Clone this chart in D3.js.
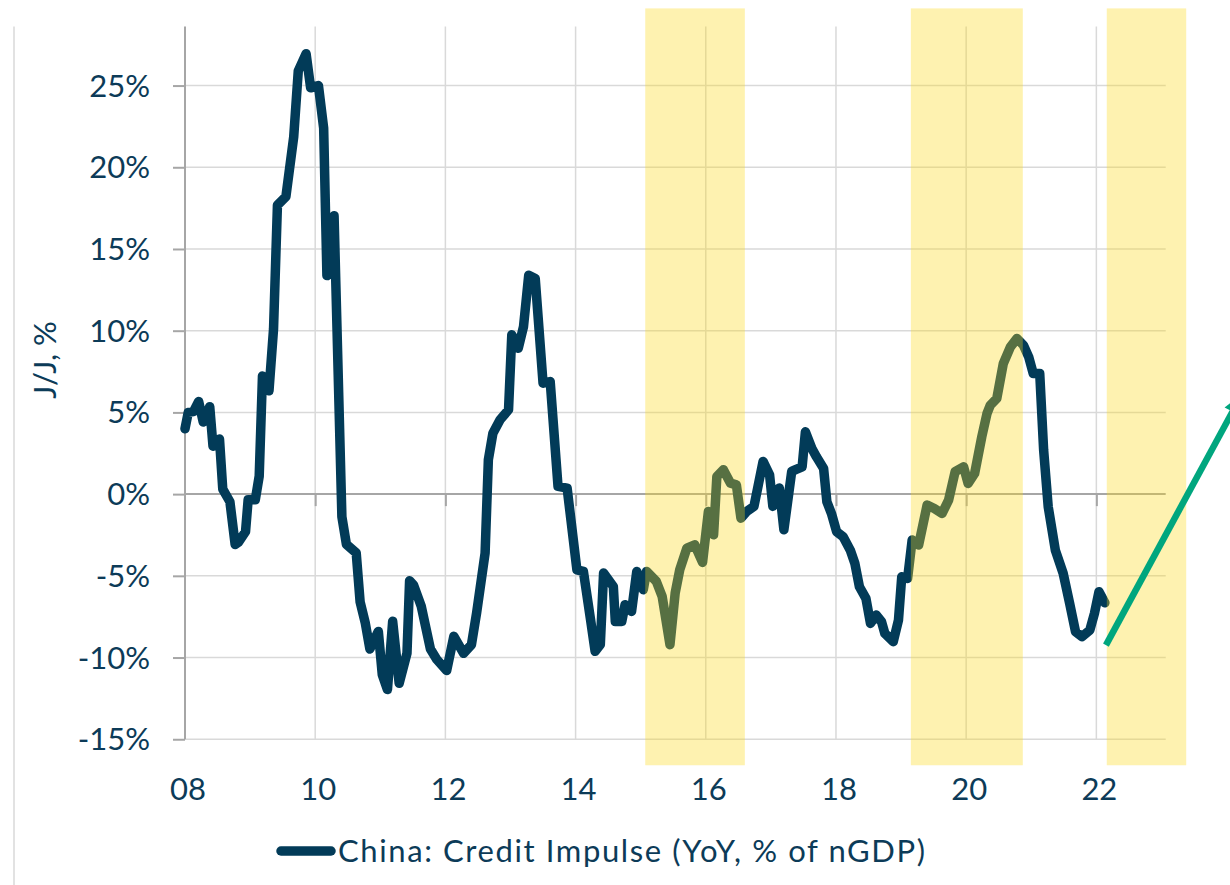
<!DOCTYPE html>
<html>
<head>
<meta charset="utf-8">
<script src="https://cdn.jsdelivr.net/npm/d3@7"></script>
<style>
  html, body { margin: 0; padding: 0; background: #fff; }
  svg { display: block; }
  text { font-family: Lato, "Open Sans", sans-serif; fill: #0c3b58; }
</style>
</head>
<body>
<svg id="chart" width="1230" height="885"></svg>
<script>
// China credit impulse, YoY, % of nominal GDP (time in decimal years)
const dates = [
  2008.00, 2008.05, 2008.13, 2008.21, 2008.28, 2008.38, 2008.43, 2008.53, 2008.58, 2008.69,
  2008.77, 2008.82, 2008.93, 2008.97, 2009.08, 2009.14, 2009.19, 2009.29, 2009.36, 2009.42,
  2009.55, 2009.67, 2009.74, 2009.86, 2009.93, 2010.05, 2010.13, 2010.18, 2010.29, 2010.41,
  2010.48, 2010.63, 2010.69, 2010.77, 2010.84, 2010.97, 2011.03, 2011.11, 2011.19, 2011.29,
  2011.41, 2011.45, 2011.51, 2011.63, 2011.77, 2011.87, 2012.02, 2012.13, 2012.28, 2012.40,
  2012.48, 2012.61, 2012.66, 2012.73, 2012.84, 2012.97, 2013.02, 2013.12, 2013.20, 2013.28,
  2013.38, 2013.50, 2013.61, 2013.73, 2013.87, 2014.02, 2014.12, 2014.23, 2014.30, 2014.38,
  2014.43, 2014.58, 2014.61, 2014.71, 2014.76, 2014.86, 2014.94, 2015.04, 2015.09, 2015.24,
  2015.33, 2015.45, 2015.53, 2015.60, 2015.71, 2015.83, 2015.95, 2016.04, 2016.12, 2016.17,
  2016.27, 2016.38, 2016.47, 2016.54, 2016.63, 2016.74, 2016.88, 2016.98, 2017.03, 2017.13,
  2017.20, 2017.32, 2017.38, 2017.48, 2017.53, 2017.63, 2017.70, 2017.81, 2017.86, 2017.93,
  2018.01, 2018.11, 2018.22, 2018.29, 2018.36, 2018.46, 2018.53, 2018.62, 2018.70, 2018.75,
  2018.88, 2018.96, 2019.01, 2019.10, 2019.17, 2019.27, 2019.40, 2019.51, 2019.63, 2019.73,
  2019.83, 2019.96, 2020.03, 2020.13, 2020.24, 2020.32, 2020.37, 2020.47, 2020.57, 2020.68,
  2020.78, 2020.88, 2020.96, 2021.03, 2021.13, 2021.19, 2021.26, 2021.37, 2021.49, 2021.59,
  2021.68, 2021.78, 2021.90, 2021.97, 2022.04, 2022.13
];
const impulse = [
  4.0, 5.0, 5.05, 5.67, 4.41, 5.35, 2.93, 3.37, 0.31, -0.47,
  -3.08, -2.95, -2.3, -0.34, -0.34, 1.1, 7.23, 6.32, 10.1, 17.68,
  18.2, 21.86, 25.9, 26.95, 24.86, 25.0, 22.4, 13.37, 17.03, -1.38,
  -3.08, -3.6, -6.6, -7.9, -9.48, -8.4, -11.05, -11.96, -7.78, -11.57,
  -9.74, -5.3, -5.56, -6.87, -9.48, -10.13, -10.79, -8.7, -9.74, -9.22,
  -7.26, -3.61, 2.1, 3.73, 4.55, 5.16, 9.75, 8.93, 10.25, 13.4,
  13.2, 6.79, 6.89, 0.47, 0.37, -4.63, -4.73, -7.69, -9.62, -9.21,
  -4.83, -5.65, -7.79, -7.79, -6.77, -7.18, -4.73, -5.85, -4.73, -5.34,
  -6.26, -9.21, -6.05, -4.63, -3.3, -3.1, -4.18, -1.06, -2.49, 1.08,
  1.49, 0.67, 0.57, -1.47, -1.06, -0.75, 2.0, 1.18, -0.75, 0.37,
  -2.18, 1.39, 1.5, 1.67, 3.81, 2.79, 2.28, 1.57, -0.47, -1.18,
  -2.3, -2.61, -3.43, -4.24, -5.67, -6.38, -7.91, -7.4, -7.81, -8.52,
  -9.03, -7.71, -5.06, -5.16, -2.81, -3.12, -0.67, -0.88, -1.18, -0.37,
  1.37, 1.67, 0.65, 1.26, 3.51, 4.93, 5.44, 5.85, 7.99, 9.01,
  9.52, 9.11, 8.4, 7.38, 7.38, 2.69, -0.77, -3.43, -4.85, -6.69,
  -8.42, -8.72, -8.32, -7.3, -5.97, -6.65
];

// Shaded periods (start, end in decimal years)
const bandStarts = [2015.07, 2019.15, 2022.16];
const bandEnds   = [2016.60, 2020.87, 2023.38];

// Trend arrow: from (time, value) to (time, value)
const arrowFrom = [2022.147, -9.24];
const arrowTo   = [2024.237, 6.12];

const yTicks = [-15, -10, -5, 0, 5, 10, 15, 20, 25];
const xTicks = [2008, 2010, 2012, 2014, 2016, 2018, 2020, 2022];
const xTickLabels = ["08", "10", "12", "14", "16", "18", "20", "22"];
const yTitle = "J/J, %";
const legendLabel = "China: Credit Impulse (YoY, % of nGDP)";

const NAVY = "#023b58";
const GRID = "#d9d9d9";
const AXIS = "#a6a6a6";

const plot = { left: 185, right: 1165.7, top: 26.4, bottom: 739.25 };

const x = d3.scaleLinear().domain([2008, 2023.065]).range([plot.left, plot.right]);
const y = d3.scaleLinear().domain([-15, 28.62]).range([plot.bottom, plot.top]);

const svg = d3.select("#chart");
svg.append("rect").attr("width", 1230).attr("height", 885).attr("fill", "#fff");

// thin frame edge on the left
svg.append("line")
  .attr("x1", 14).attr("x2", 14).attr("y1", plot.top).attr("y2", 885)
  .attr("stroke", GRID).attr("stroke-width", 1.5);

// gridlines
const grid = svg.append("g");
grid.selectAll("line.h").data(yTicks.filter(d => d !== 0)).join("line")
  .attr("x1", plot.left).attr("x2", plot.right)
  .attr("y1", d => y(d)).attr("y2", d => y(d))
  .attr("stroke", GRID).attr("stroke-width", 1.5);
grid.selectAll("line.v").data(xTicks.slice(1)).join("line")
  .attr("x1", d => x(d)).attr("x2", d => x(d))
  .attr("y1", plot.top).attr("y2", plot.bottom)
  .attr("stroke", GRID).attr("stroke-width", 1.5);

// y axis
const yAxis = svg.append("g")
  .attr("transform", `translate(${plot.left},0)`)
  .call(d3.axisLeft(y).tickValues(yTicks).tickSize(12).tickFormat(""));
yAxis.select(".domain").attr("d", `M0,${plot.top}V${plot.bottom}`);
yAxis.selectAll("path, line").attr("stroke", AXIS).attr("stroke-width", 2);

// zero line with ticks
const xAxis = svg.append("g")
  .attr("transform", `translate(0,${y(0)})`)
  .call(d3.axisBottom(x).tickValues(xTicks.slice(1)).tickSize(12).tickFormat(""));
xAxis.select(".domain").attr("d", `M${plot.left},0H${plot.right}`);
xAxis.selectAll("path, line").attr("stroke", AXIS).attr("stroke-width", 2);

// tick labels
svg.append("g").selectAll("text").data(yTicks).join("text")
  .attr("x", 150).attr("y", d => y(d) + 11)
  .attr("text-anchor", "end")
  .style("font-size", "31px")
  .text(d => d + "%");
svg.append("g").selectAll("text").data(xTicks).join("text")
  .attr("x", d => x(d) + 3).attr("y", 800)
  .attr("text-anchor", "middle")
  .style("font-size", "31px")
  .text((d, i) => xTickLabels[i]);

// axis title
svg.append("text")
  .attr("transform", "translate(56,360) rotate(-90)")
  .attr("text-anchor", "middle")
  .style("font-size", "31px")
  .text(yTitle);

// series line
const series = dates.map((d, i) => ({ t: d, v: impulse[i] }));
svg.append("path")
  .datum(series)
  .attr("d", d3.line().x(d => x(d.t)).y(d => y(d.v)))
  .attr("fill", "none")
  .attr("stroke", NAVY)
  .attr("stroke-width", 9.5)
  .attr("stroke-linejoin", "round")
  .attr("stroke-linecap", "round");

// shaded periods, laid over the line
svg.append("g").selectAll("rect").data(bandStarts).join("rect")
  .attr("x", d => x(d))
  .attr("width", (d, i) => x(bandEnds[i]) - x(d))
  .attr("y", plot.top - 18)
  .attr("height", (plot.bottom + 26) - (plot.top - 18))
  .attr("fill", "#fcd916")
  .attr("fill-opacity", 0.34);

// trend arrow
const ax0 = x(arrowFrom[0]), ay0 = y(arrowFrom[1]);
const ax1 = x(arrowTo[0]), ay1 = y(arrowTo[1]);
const len = Math.hypot(ax1 - ax0, ay1 - ay0);
const ux = (ax1 - ax0) / len, uy = (ay1 - ay0) / len;
const headLen = 20, headHalf = 9;
const bx = ax1 - ux * headLen, by = ay1 - uy * headLen;
svg.append("line")
  .attr("x1", ax0).attr("y1", ay0).attr("x2", bx).attr("y2", by)
  .attr("stroke", "#00a67e").attr("stroke-width", 6.5);
svg.append("path")
  .attr("d", `M${ax1},${ay1}L${bx - uy * headHalf},${by + ux * headHalf}L${bx + uy * headHalf},${by - ux * headHalf}Z`)
  .attr("fill", "#00a67e");

// legend
svg.append("line")
  .attr("x1", 281).attr("x2", 331).attr("y1", 851).attr("y2", 851)
  .attr("stroke", NAVY).attr("stroke-width", 9.5).attr("stroke-linecap", "round");
svg.append("text")
  .attr("x", 338).attr("y", 861.5)
  .attr("textLength", 587)
  .attr("lengthAdjust", "spacing")
  .style("font-size", "31px")
  .text(legendLabel);
</script>
</body>
</html>
